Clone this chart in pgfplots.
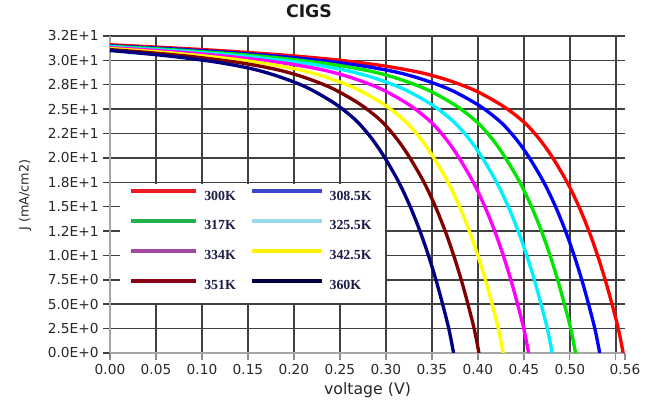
\documentclass[border=0pt]{standalone}
\usepackage{pgfplots}
\pgfplotsset{compat=1.18}
\usepackage{fontspec}
\setmainfont{DejaVu Sans}
\newfontfamily\legfont{Liberation Serif}
\definecolor{cRed}{RGB}{255,0,0}
\definecolor{cBlue}{RGB}{0,0,255}
\definecolor{cGreen}{RGB}{0,230,0}
\definecolor{cCyan}{RGB}{0,240,255}
\definecolor{cMag}{RGB}{255,0,255}
\definecolor{cYel}{RGB}{255,255,0}
\definecolor{cMar}{RGB}{128,0,0}
\definecolor{cNavy}{RGB}{0,0,128}
\definecolor{lRed}{RGB}{237,28,36}
\definecolor{lBlue}{RGB}{63,72,204}
\definecolor{lGreen}{RGB}{34,177,76}
\definecolor{lCyan}{RGB}{153,217,234}
\definecolor{lPur}{RGB}{163,73,164}
\definecolor{lYel}{RGB}{255,242,0}
\definecolor{lMar}{RGB}{136,0,21}
\definecolor{lNavy}{RGB}{0,0,64}
\definecolor{legtext}{RGB}{30,30,70}
\definecolor{tickc}{RGB}{40,40,40}
\begin{document}
\begin{tikzpicture}
\begin{axis}[
  scale only axis, width=386.25pt, height=237.75pt,
  xmin=0, xmax=0.56, ymin=0, ymax=32.5,
  axis lines*=left,
  axis line style={black!35, line width=0.9pt},
  grid=major,
  grid style={black!75, line width=1.1pt},
  xtick={0,0.05,0.1,0.15,0.2,0.25,0.3,0.35,0.4,0.45,0.5,0.55},
  xticklabels={0.00,0.05,0.10,0.15,0.20,0.25,0.30,0.35,0.40,0.45,0.50,},
  extra x ticks={0.56}, extra x tick labels={0.56},
  extra x tick style={grid=none},
  ytick={0,2.5,5,7.5,10,12.5,15,17.5,20,22.5,25,27.5,30,32.5},
  yticklabels={0.0E+0,2.5E+0,5.0E+0,7.5E+0,1.0E+1,1.2E+1,1.5E+1,1.8E+1,2.0E+1,2.2E+1,2.5E+1,2.8E+1,3.0E+1,3.2E+1},
  tick align=outside,
  major tick length=5pt,
  y tick style={black!75, line width=1.1pt},
  x tick style={black!45, line width=1pt},
  tick label style={font=\fontsize{10.3}{12}\selectfont, text=tickc},
  xlabel={voltage (V)},
  xlabel style={at={(0.5,0)}, anchor=base, yshift=-31.5pt, font=\fontsize{11.8}{13}\selectfont, text=tickc},
  ylabel={J (mA/cm2)},
  ylabel style={at={(axis description cs:-0.165,0.498)}, anchor=center, rotate=0, font=\fontsize{9.6}{11}\selectfont, text=tickc},
  title={CIGS},
  title style={at={(0,1)}, anchor=base, xshift=149.25pt, yshift=8pt, font=\bfseries\fontsize{13}{15}\selectfont, text=black!90},
  legend columns=2,
  legend cell align=left,
  legend image code/.code={\draw[#1] (0pt,3.4pt) -- (49pt,3.4pt);},
  legend style={draw=none, fill=none, inner sep=0pt, outer sep=0pt,
    at={(axis cs:0.0206,16.82)}, anchor=north west,
    row sep=14pt, column sep=4.5pt,
    font=\legfont\bfseries\fontsize{10.4}{12}\selectfont, text=legtext,
    nodes={inner sep=0pt, text height=7pt, text depth=0pt, text width=29.5pt}},
]
\fill[white] (axis cs:0.0108,5.13) rectangle (axis cs:0.2985,17.37);

\addplot[cRed, line width=2.5pt, smooth, forget plot] coordinates {
(0,31.6)(0.048,31.37)(0.098,31.12)(0.148,30.82)(0.198,30.47)(0.248,30.03)(0.298,29.43)(0.338,28.74)(0.368,27.95)(0.398,26.86)(0.428,25.27)(0.451,23.59)(0.468,21.8)(0.482,19.92)(0.498,17.34)(0.511,14.77)(0.522,12.19)(0.531,9.76)(0.539,7.33)(0.546,4.96)(0.553,2.38)(0.558,0)};
\addplot[cBlue, line width=2.5pt, smooth, forget plot] coordinates {
(0,31.5)(0.0225,31.4)(0.0725,31.15)(0.1225,30.85)(0.1725,30.5)(0.2225,30.06)(0.2725,29.46)(0.3125,28.77)(0.3425,27.97)(0.3725,26.88)(0.4025,25.3)(0.4255,23.61)(0.4425,21.82)(0.4565,19.94)(0.4725,17.36)(0.4855,14.78)(0.4965,12.2)(0.5055,9.77)(0.5135,7.34)(0.5205,4.96)(0.5275,2.38)(0.5325,0)};
\addplot[cGreen, line width=2.5pt, smooth, forget plot] coordinates {
(0,31.45)(0.0462,31.21)(0.0962,30.91)(0.1462,30.57)(0.1962,30.12)(0.2462,29.52)(0.2862,28.83)(0.3162,28.03)(0.3462,26.94)(0.3762,25.35)(0.3992,23.66)(0.4162,21.87)(0.4302,19.98)(0.4462,17.4)(0.4592,14.81)(0.4702,12.23)(0.4792,9.79)(0.4872,7.36)(0.4942,4.97)(0.5012,2.39)(0.5062,0)};
\addplot[cCyan, line width=2.5pt, smooth, forget plot] coordinates {
(0,31.4)(0.0208,31.27)(0.0708,30.98)(0.1208,30.63)(0.1708,30.18)(0.2208,29.58)(0.2608,28.88)(0.2908,28.09)(0.3208,26.99)(0.3508,25.4)(0.3738,23.7)(0.3908,21.91)(0.4048,20.02)(0.4208,17.43)(0.4338,14.84)(0.4448,12.25)(0.4538,9.81)(0.4618,7.37)(0.4688,4.98)(0.4758,2.39)(0.4808,0)};
\addplot[cMag, line width=2.5pt, smooth, forget plot] coordinates {
(0,31.3)(0.0452,31.04)(0.0952,30.69)(0.1452,30.24)(0.1952,29.64)(0.2352,28.94)(0.2652,28.14)(0.2952,27.05)(0.3252,25.45)(0.3482,23.75)(0.3652,21.96)(0.3792,20.06)(0.3952,17.47)(0.4082,14.87)(0.4192,12.28)(0.4282,9.83)(0.4362,7.39)(0.4432,4.99)(0.4502,2.4)(0.4552,0)};
\addplot[cYel, line width=2.5pt, smooth, forget plot] coordinates {
(0,31.2)(0.0175,31.1)(0.0675,30.75)(0.1175,30.3)(0.1675,29.7)(0.2075,29.0)(0.2375,28.2)(0.2675,27.1)(0.2975,25.5)(0.3205,23.8)(0.3375,22.0)(0.3515,20.1)(0.3675,17.5)(0.3805,14.9)(0.3915,12.3)(0.4005,9.85)(0.4085,7.4)(0.4155,5.0)(0.4225,2.4)(0.4275,0)};
\addplot[cMar, line width=2.5pt, smooth, forget plot] coordinates {
(0,31.1)(0.0412,30.81)(0.0912,30.36)(0.1412,29.76)(0.1812,29.06)(0.2112,28.26)(0.2412,27.15)(0.2712,25.55)(0.2942,23.85)(0.3112,22.04)(0.3252,20.14)(0.3412,17.54)(0.3542,14.93)(0.3652,12.32)(0.3742,9.87)(0.3822,7.41)(0.3892,5.01)(0.3962,2.4)(0.4012,0)};
\addplot[cNavy, line width=2.5pt, smooth, forget plot] coordinates {
(0,31.0)(0.0136,30.9)(0.0636,30.45)(0.1136,29.85)(0.1536,29.15)(0.1836,28.34)(0.2136,27.24)(0.2436,25.63)(0.2666,23.92)(0.2836,22.11)(0.2976,20.2)(0.3136,17.59)(0.3266,14.97)(0.3376,12.36)(0.3466,9.9)(0.3546,7.44)(0.3616,5.03)(0.3686,2.41)(0.3736,0)};

\addlegendimage{lRed, line width=3pt}\addlegendentry{300K}
\addlegendimage{legend image code/.code={\draw[lBlue, line width=3pt] (0pt,3.4pt) -- (52.5pt,3.4pt);}}\addlegendentry{308.5K}
\addlegendimage{lGreen, line width=3pt}\addlegendentry{317K}
\addlegendimage{legend image code/.code={\draw[lCyan, line width=3pt] (0pt,3.4pt) -- (52.5pt,3.4pt);}}\addlegendentry{325.5K}
\addlegendimage{lPur, line width=3pt}\addlegendentry{334K}
\addlegendimage{legend image code/.code={\draw[lYel, line width=3pt] (0pt,3.4pt) -- (52.5pt,3.4pt);}}\addlegendentry{342.5K}
\addlegendimage{lMar, line width=3pt}\addlegendentry{351K}
\addlegendimage{legend image code/.code={\draw[lNavy, line width=3pt] (0pt,3.4pt) -- (52.5pt,3.4pt);}}\addlegendentry{360K}
\end{axis}
\path ([shift={(-82.5pt,-36.75pt)}]current axis.south west) rectangle ([shift={(409.5pt,263.25pt)}]current axis.south west);
\end{tikzpicture}
\end{document}
